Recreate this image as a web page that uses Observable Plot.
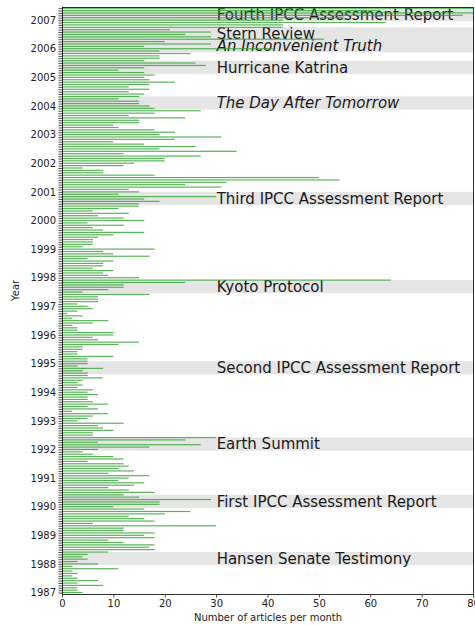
<!DOCTYPE html>
<html><head><meta charset="utf-8">
<script src="https://cdn.jsdelivr.net/npm/d3@7"></script>
<script src="https://cdn.jsdelivr.net/npm/@observablehq/plot@0.6"></script>
<style>body{margin:0;background:#fff;} #chart{width:475px;height:625px;}</style>
</head><body><div id="chart"></div>
<script>
// Monthly article counts, January..December of each year
const startYear = 1987;
const counts1987 = [4,3,3,8,3,7,3,2,3,2,11,2];
const counts1988 = [7,3,5,4,5,9,18,17,18,12,9,18];
const counts1989 = [16,18,12,12,30,6,18,16,13,20,25,16];
const counts1990 = [10,19,19,29,15,12,18,13,9,14,16,11];
const counts1991 = [13,17,9,14,11,13,12,5,12,10,6,4];
const counts1992 = [7,17,27,7,24,30,6,6,10,8,7,12];
const counts1993 = [3,5,6,9,2,7,5,9,6,5,5,7];
const counts1994 = [5,6,3,4,3,4,8,5,5,4,8,3];
const counts1995 = [5,5,5,10,3,3,4,4,11,15,7,6];
const counts1996 = [10,10,3,3,2,6,9,2,4,1,3,6];
const counts1997 = [5,3,7,7,7,17,4,9,12,12,24,64];
const counts1998 = [15,9,8,10,6,8,8,10,5,17,10,8];
const counts1999 = [18,4,6,6,6,7,10,16,8,6,12,5];
const counts2000 = [16,12,7,13,6,11,15,15,19,16,30,11];
const counts2001 = [15,13,31,24,32,54,50,18,8,8,4,12];
const counts2002 = [14,20,20,27,12,34,19,26,16,10,22,31];
const counts2003 = [19,22,18,11,10,15,15,24,13,18,27,18];
const counts2004 = [17,15,15,11,15,16,13,17,13,17,22,17];
const counts2005 = [16,18,16,11,16,28,26,16,19,19,25,19];
const counts2006 = [41,16,29,20,51,29,24,29,21,43,43,63];
const counts2007 = [43,55,78,80,62,82];
const yearlyCounts = [counts1987,counts1988,counts1989,counts1990,counts1991,counts1992,counts1993,
  counts1994,counts1995,counts1996,counts1997,counts1998,counts1999,counts2000,counts2001,counts2002,
  counts2003,counts2004,counts2005,counts2006,counts2007];

// Annotated events
const eventNames = ["Hansen Senate Testimony","First IPCC Assessment Report","Earth Summit",
  "Second IPCC Assessment Report","Kyoto Protocol","Third IPCC Assessment Report",
  "The Day After Tomorrow","Hurricane Katrina","An Inconvenient Truth","Stern Review",
  "Fourth IPCC Assessment Report"];
const eventYears  = [1988,1990,1992,1995,1997,2001,2004,2005,2006,2006,2007];
const eventMonths = [6,6,6,2,12,1,5,8,5,10,6];
const eventKinds  = ["event","event","event","event","event","event","film","event","film","event","event"];

const xTicks = [0,10,20,30,40,50,60,70,80];
const xLabel = "Number of articles per month";
const yLabel = "Year";

const M = 1/12;
const months = [];
yearlyCounts.forEach((arr, k) => arr.forEach((v, m) => months.push({date: startYear + k + m*M, count: v})));
const events = eventNames.map((name, j) => ({name, date: eventYears[j] + (eventMonths[j]-1)*M, kind: eventKinds[j]}));
const monthTicks = months.map(d => d.date);

const chart = Plot.plot({
  width: 475, height: 625,
  marginLeft: 62, marginRight: 2, marginTop: 7, marginBottom: 31,
  style: {fontFamily: "'DejaVu Sans', sans-serif", fontSize: "10px", color: "#222", background: "#fff"},
  x: {domain: [0, 80]},
  y: {domain: [startYear - 0.6*M, startYear + 245.5*M]},
  marks: [
    Plot.rect(events, {x1: 0, x2: 80, y1: d => d.date - 5.5*M, y2: d => d.date, fill: "#e5e5e5"}),
    Plot.text(events.filter(d => d.kind !== "film"), {x: 30, y: d => d.date - 2.75*M, text: "name",
      textAnchor: "start", fontSize: 15, fill: "#1a1a1a"}),
    Plot.text(events.filter(d => d.kind === "film"), {x: 30, y: d => d.date - 2.75*M, text: "name",
      textAnchor: "start", fontSize: 15, fontStyle: "italic", fill: "#1a1a1a"}),
    Plot.rect(months, {x1: 0, x2: "count", y1: d => d.date - 0.25*M, y2: d => d.date + 0.25*M,
      fill: "#2ca02c", fillOpacity: 0.78, shapeRendering: "geometricPrecision", clip: true}),
    Plot.frame({stroke: "#000", strokeWidth: 0.8}),
    Plot.axisY(monthTicks, {tickSize: 3.5, tickPadding: 3, strokeWidth: 0.8, label: null,
      tickFormat: d => {const r = Math.round(d); return Math.abs(d - r) < 1e-6 ? String(r) : "";}}),
    Plot.axisX(xTicks, {tickSize: 3.5, tickPadding: 2, strokeWidth: 0.8, label: null}),
    Plot.text([xLabel], {frameAnchor: "bottom", dy: 26, fontSize: 10, fill: "#222"}),
    Plot.text([yLabel], {frameAnchor: "left", dx: -47, rotate: -90, fontSize: 10, fill: "#222"})
  ]
});
document.getElementById("chart").appendChild(chart);
</script>
</body></html>
